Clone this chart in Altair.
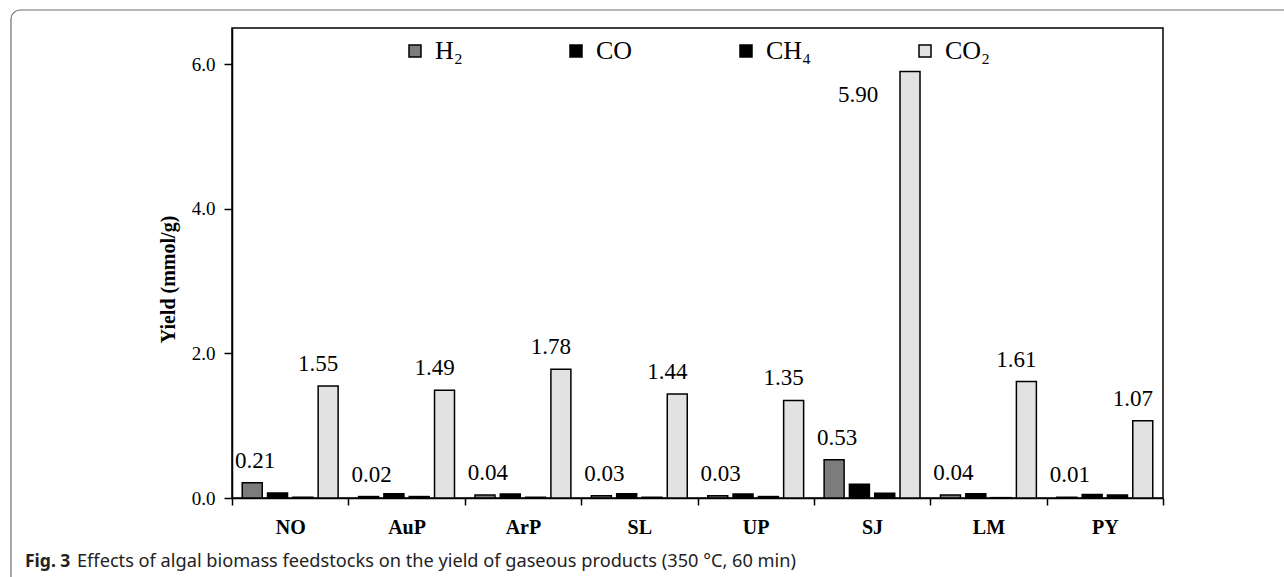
import altair as alt
import pandas as pd

# ---- data ----
categories = ["NO", "AuP", "ArP", "SL", "UP", "SJ", "LM", "PY"]
series = ["H₂", "CO", "CH₄", "CO₂"]
h2 = [0.21, 0.02, 0.04, 0.03, 0.03, 0.53, 0.04, 0.01]
co = [0.07, 0.06, 0.055, 0.06, 0.055, 0.19, 0.06, 0.05]
ch4 = [0.01, 0.02, 0.01, 0.01, 0.02, 0.065, 0.005, 0.04]
co2 = [1.55, 1.49, 1.78, 1.44, 1.35, 5.90, 1.61, 1.07]
y_ticks = [0, 2, 4, 6]
y_title = "Yield (mmol/g)"
caption_bold = "Fig. 3"
caption_text = "Effects of algal biomass feedstocks on the yield of gaseous products (350 °C, 60 min)"

rows = []
for s, vals in zip(series, [h2, co, ch4, co2]):
    for c, v in zip(categories, vals):
        rows.append({"feedstock": c, "gas": s, "yield": v})
df = pd.DataFrame(rows)

SERIF = "Liberation Serif"
fills = ["#7c7c7c", "#000000", "#000000", "#e2e2e2"]

base = alt.Chart(df).encode(
    x=alt.X(
        "feedstock:N",
        sort=categories,
        scale=alt.Scale(paddingInner=0, paddingOuter=0),
        axis=alt.Axis(
            title=None, tickBand="extent", labelFont=SERIF, labelFontWeight="bold",
            labelFontSize=20, labelAngle=0, tickSize=7, labelPadding=12,
            domainColor="black", tickColor="black", labelColor="black",
            domainWidth=1.5, tickWidth=1.5,
        ),
    ),
    xOffset=alt.XOffset("gas:N", sort=series,
                        scale=alt.Scale(paddingInner=0.21, paddingOuter=0.405)),
    y=alt.Y(
        "yield:Q",
        scale=alt.Scale(domain=[0, 6.5], nice=False),
        axis=alt.Axis(
            values=y_ticks, format=".1f", title=y_title, titleFont=SERIF,
            titleFontWeight="bold", titleFontSize=20, titleColor="black",
            titlePadding=13, titleY=251, labelFont=SERIF, labelFontSize=19,
            labelColor="black", tickSize=8, labelPadding=9, grid=False,
            domainColor="black", tickColor="black", domainWidth=1.5, tickWidth=1.5,
        ),
    ),
)

bars = base.mark_bar(stroke="black", strokeWidth=1.5).encode(
    color=alt.Color(
        "gas:N", sort=series,
        scale=alt.Scale(domain=series, range=fills),
        legend=alt.Legend(
            title=None, orient="none", legendX=170, legendY=10, direction="horizontal",
            columnPadding=100, symbolType="square", symbolSize=144,
            symbolStrokeWidth=1.5, symbolStrokeColor="black", symbolOpacity=1,
            labelFont=SERIF, labelFontSize=26, labelColor="black", labelOffset=7,
        ),
    )
)

text_style = dict(font=SERIF, fontSize=23, baseline="alphabetic", color="black")

h2_labels = base.transform_filter(alt.datum.gas == "H₂").mark_text(
    dy=-15, dx=3, **text_style
).encode(text=alt.Text("yield:Q", format=".2f"))

co2_labels = base.transform_filter(
    (alt.datum.gas == "CO₂") & (alt.datum["yield"] < 5)
).mark_text(dx=-10, dy=-15, **text_style).encode(text=alt.Text("yield:Q", format=".2f"))

co2_top_label = base.transform_filter(
    (alt.datum.gas == "CO₂") & (alt.datum["yield"] >= 5)
).mark_text(dx=-52, dy=31, **text_style).encode(text=alt.Text("yield:Q", format=".2f"))

one = alt.Data(values=[{"k": 1}])

frame = alt.Chart(one).mark_rect(
    fillOpacity=0, stroke="#6e6e6e", strokeWidth=1.2, cornerRadius=9
).encode(
    x=alt.value(-221), x2=alt.value(1300), y=alt.value(-18), y2=alt.value(700)
)

cap1 = alt.Chart(one).mark_text(
    font="Noto Sans", fontWeight="bold", fontSize=17.5, align="left",
    baseline="alphabetic", color="#222222"
).encode(x=alt.value(-207), y=alt.value(539), text=alt.value(caption_bold))

cap2 = alt.Chart(one).mark_text(
    font="Noto Sans", fontSize=18.2, align="left", baseline="alphabetic",
    color="#222222"
).encode(x=alt.value(-155), y=alt.value(539), text=alt.value(caption_text))

chart = alt.layer(
    frame, bars, h2_labels, co2_labels, co2_top_label, cap1, cap2
).properties(
    width=931, height=470,
    autosize=alt.AutoSizeParams(type="none"),
    padding={"left": 232, "top": 28, "right": 121, "bottom": 79},
    background="white",
).configure_view(stroke="black", strokeWidth=1.5)

chart.save("out.html", embed_options={"renderer": "svg", "actions": False})
